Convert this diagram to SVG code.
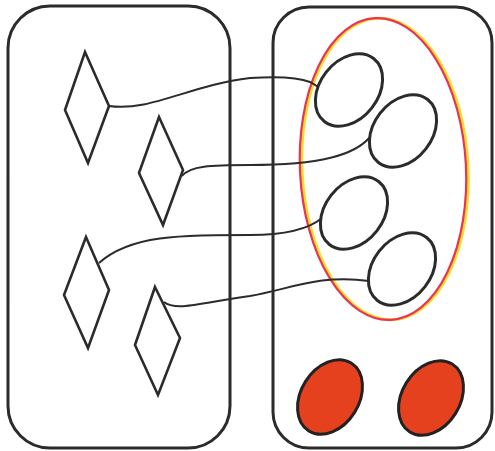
<svg xmlns="http://www.w3.org/2000/svg" width="495" height="451" viewBox="0 0 495 451">
<style>
.box{fill:none;stroke:#2b2b2b;stroke-width:3}
.dia{fill:#fff;stroke:#2b2b2b;stroke-width:2.6;stroke-linejoin:miter}
.ell{fill:#fff;stroke:#2b2b2b;stroke-width:3}
.red{fill:#e5411f;stroke:#222;stroke-width:3}
.con{fill:none;stroke:#2b2b2b;stroke-width:2}
</style>
<rect width="495" height="451" fill="#fff"/>
<g id="left-set"><rect class="box" x="8" y="6" width="222" height="442" rx="42"/></g>
<g id="right-set"><rect class="box" x="273" y="7" width="219" height="441" rx="36"/></g>
<g id="subset">
<ellipse cx="385" cy="169" rx="83" ry="151" transform="rotate(-3 385 169)" fill="none" stroke="#f3df22" stroke-width="3"/>
<ellipse cx="383" cy="169" rx="83" ry="151" transform="rotate(-3 383 169)" fill="none" stroke="#e8335a" stroke-width="2.2"/>
</g>
<g id="connectors">
<path class="con" d="M109,106 C150,112 190,85 250,78 C280,76 300,78 310,82 L320,88"/>
<path class="con" d="M182,176 C190,166 210,165 250,165 C320,165 355,155 370,137"/>
<path class="con" d="M99,263 C130,235 180,235 250,235 C290,235 310,228 322,218"/>
<path class="con" d="M164,302 C176,312 205,302 250,296 C290,289 320,274 369,281"/>
</g>
<g id="d1"><polygon class="dia" points="85,52 109,106 88,163 65,110"/></g>
<g id="d2"><polygon class="dia" points="159,117 183,170 163,225 139,173"/></g>
<g id="d3"><polygon class="dia" points="86,237 109,290 88,348 64,295"/></g>
<g id="d4"><polygon class="dia" points="155,287 180,338 158,395 135,345"/></g>
<g id="e1"><ellipse class="ell" cx="349" cy="90" rx="40" ry="29" transform="rotate(-52 349 90)"/></g>
<g id="e2"><ellipse class="ell" cx="403" cy="131" rx="40" ry="29" transform="rotate(-52 403 131)"/></g>
<g id="e3"><ellipse class="ell" cx="354" cy="213" rx="40" ry="29" transform="rotate(-52 354 213)"/></g>
<g id="e4"><ellipse class="ell" cx="402" cy="269" rx="40" ry="29" transform="rotate(-52 402 269)"/></g>
<g id="r1"><ellipse class="red" cx="330" cy="397" rx="40" ry="29" transform="rotate(-58 330 397)"/></g>
<g id="r2"><ellipse class="red" cx="431" cy="398" rx="40" ry="29" transform="rotate(-58 431 398)"/></g>
</svg>
